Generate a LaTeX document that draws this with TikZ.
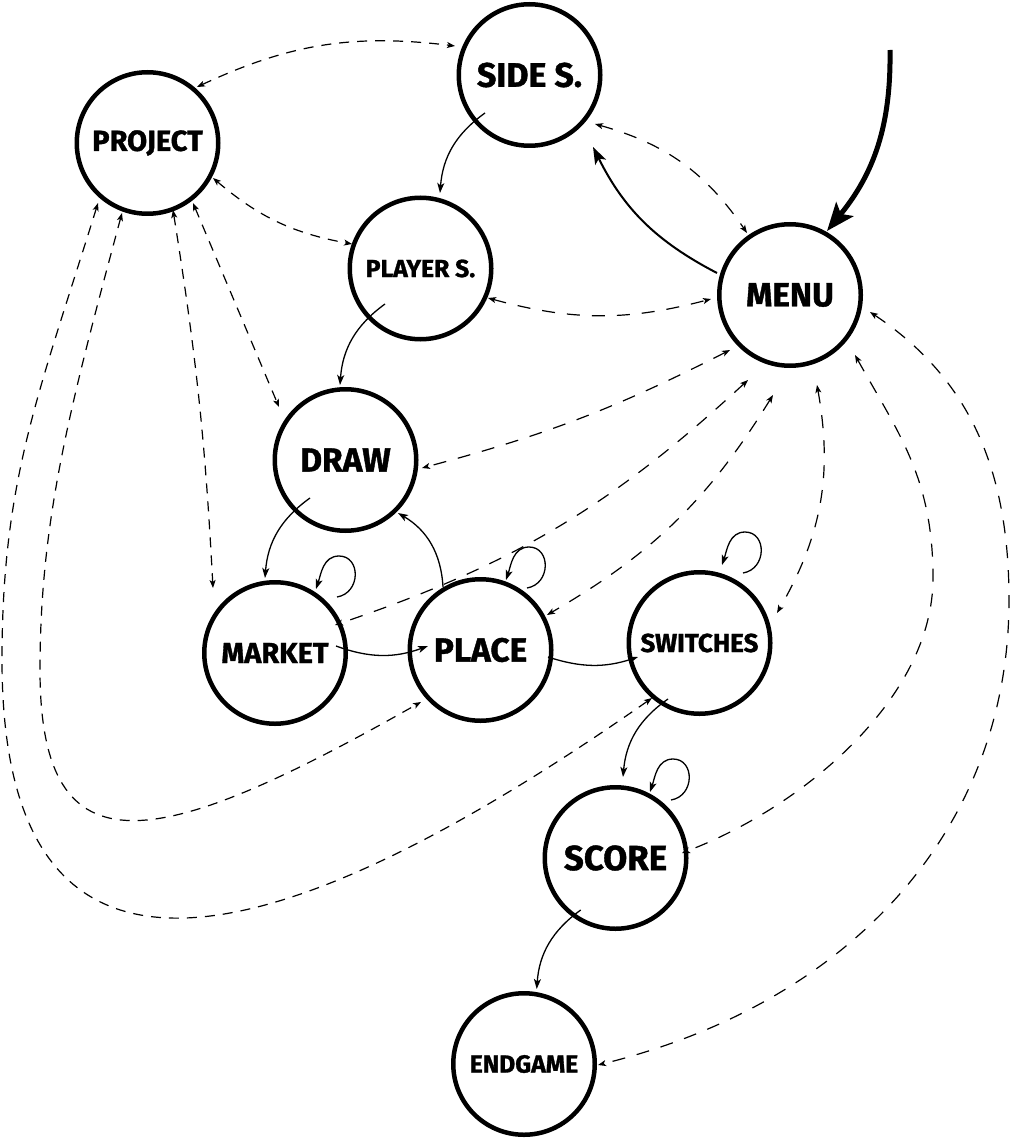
\documentclass[tikz,border=0pt]{standalone}
\usepackage{fontspec}
\setmainfont{Fira Sans}[BoldFeatures={FakeBold=1.2}]
\usetikzlibrary{arrows.meta,calc}
\begin{document}
\begin{tikzpicture}[x=1pt,y=-1pt,
  state/.style={circle,draw,line width=4.5pt,minimum size=141.5pt,inner sep=0pt},
  tr/.style={line width=1.3pt,-{Stealth[length=10pt,width=7pt,inset=2.5pt]}},
  lnk/.style={line width=1.2pt,dash pattern=on 10pt off 8pt,
     {Stealth[length=8pt,width=6pt,inset=2pt]}-{Stealth[length=8pt,width=6pt,inset=2pt]}},
  mlnk/.style={lnk,dash pattern=on 13pt off 12pt},
  fs/.style={font=\bfseries\fontsize{#1}{#1}\selectfont}
]
\useasboundingbox (0,0) rectangle (1010,1139);

% states
\node[state,fs=29]   (project)  at (147.5,143)  {PROJECT};
\node[state,fs=34]   (sides)    at (529.5,75)   {SIDE S.};
\node[state,fs=24.7] (players)  at (420.5,268.5){PLAYER S.};
\node[state,fs=33.4] (menu)     at (790,295)    {MENU};
\node[state,fs=33.4] (draw)     at (345.5,460)  {DRAW};
\node[state,fs=29]   (market)   at (275,653)    {MARKET};
\node[state,fs=33.4] (place)    at (480.5,650)  {PLACE};
\node[state,fs=26]   (switches) at (699.5,643)  {SWITCHES};
\node[state,fs=34.8] (score)    at (615.5,858)  {SCORE};
\node[state,fs=24.7] (endgame)  at (524,1064)   {ENDGAME};

% initial arrow
\coordinate (init) at (890,50);
\draw[line width=5pt,-{Stealth[length=28pt,width=22pt,inset=6pt]}]
  (init) to[bend left=20] ($(menu)+(37,-64)$);

% solid transitions
\draw[line width=2pt,-{Stealth[length=17pt,width=12pt,inset=4pt]}]
  ($(menu)+(-73,-22)$) to[bend left=18] ($(sides)+(63.5,72)$);
\draw[tr] ($(sides)+(-44.5,38)$) to[bend right=25] ($(players)+(19.5,-75.5)$);
\draw[tr] ($(players)+(-35.5,35.5)$) to[bend right=25] ($(draw)+(-5.5,-75)$);
\draw[tr] ($(draw)+(-35.5,38)$) to[bend right=25] ($(market)+(-10,-75)$);
\draw[tr] ($(place)+(-37.5,-63)$) to[bend right=28] ($(draw)+(52.5,53)$);
\draw[tr] ($(market)+(61,-7)$) to[bend right=20] ($(place)+(-52.5,-4)$);
\draw[tr] ($(place)+(67.5,7)$) to[bend right=18] ($(switches)+(-61.5,14)$);
\draw[tr] ($(switches)+(-31.5,56)$) to[bend right=25] ($(score)+(7.5,-81)$);
\draw[tr] ($(score)+(-34.8,52)$) to[bend right=25] ($(endgame)+(12.7,-75)$);

% self loops
\tikzset{selfloop/.style={tr,insert path={
  .. controls +(24,-4) and +(22,0) .. ++(2,-41)
  .. controls +(-16,0) and +(4.8,-14.3) .. ++(-23,33)}}}
\draw ($(market)+(62,-56)$) [selfloop];
\draw ($(place)+(46.5,-62)$) [selfloop];
\draw ($(switches)+(43.5,-70)$) [selfloop];
\draw ($(score)+(55.5,-58)$) [selfloop];

% dashed links of PROJECT
\draw[lnk] ($(project)+(49.5,-56)$) to[bend left=16] ($(sides)+(-74.5,-29)$);
\draw[lnk] ($(project)+(65.5,35)$) to[bend right=15] ($(players)+(-68.5,-24.5)$);
\draw[lnk] ($(project)+(45.5,60)$) to ($(draw)+(-66.5,-53)$);
\draw[lnk] ($(project)+(25.5,67)$) to[bend left=3] ($(market)+(-62,-65)$);
\draw[lnk] ($(project)+(-25.5,70)$) .. controls (70,406) and (40,520) .. (40,670)
   .. controls (40,880) and (160,850) .. ($(place)+(-59.5,52)$);
\draw[lnk] ($(project)+(-49.5,60)$) .. controls (38.6,394) and (2,480) .. (2,660)
   .. controls (2,1010) and (242.5,984.5) .. ($(switches)+(-47.5,55)$);

% dashed links of MENU
\draw[mlnk] ($(sides)+(65.5,49)$) to[bend left=20] ($(menu)+(-43,-62)$);
\draw[mlnk] ($(players)+(67.5,29.5)$) to[bend right=15] ($(menu)+(-79,4)$);
\draw[mlnk] ($(menu)+(-60,55)$) to[bend left=6] ($(draw)+(76.5,8)$);
\draw[mlnk] ($(menu)+(-42,85)$) to[bend left=12] ($(market)+(60,-28)$);
\draw[mlnk] ($(menu)+(-17,100)$) to[bend left=14] ($(place)+(66.5,-35)$);
\draw[mlnk] ($(menu)+(27,90)$) to[bend left=20] ($(switches)+(77.5,-30)$);
\draw[mlnk] ($(menu)+(65,60)$) .. controls (898.7,433.7) and (933,478) .. (933,578)
   .. controls (933,698) and (803.4,806.7) .. ($(score)+(66.5,-5)$);
\draw[mlnk] ($(menu)+(80,17)$) .. controls (969.8,378.6) and (1009,470) .. (1009,600)
   .. controls (1009,830) and (850.2,1002.6) .. ($(endgame)+(74,1)$);
\end{tikzpicture}
\end{document}
